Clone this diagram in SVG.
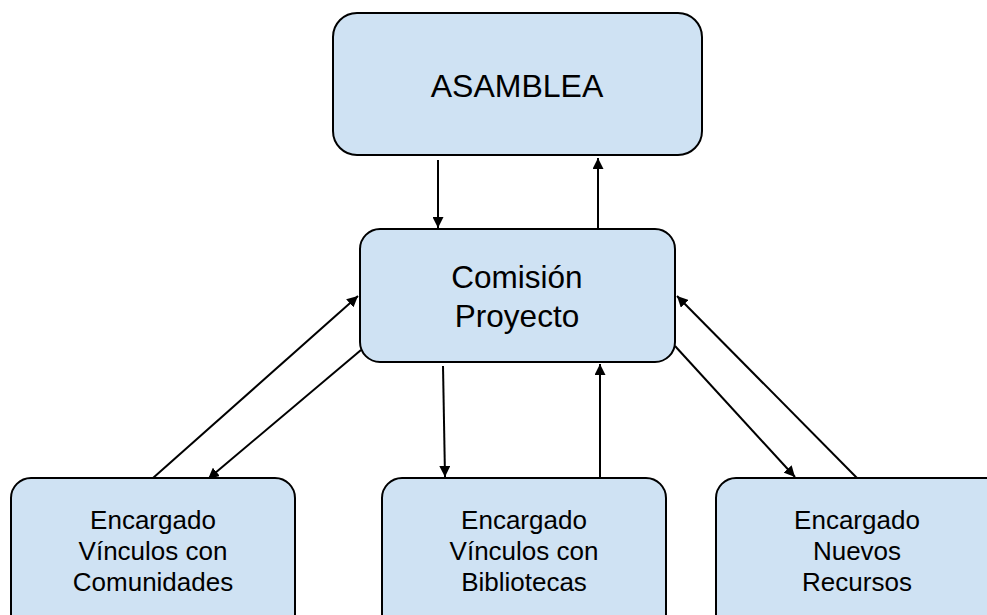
<svg xmlns="http://www.w3.org/2000/svg" width="987" height="615" viewBox="0 0 987 615">
<style>
.box{fill:#cfe2f3;stroke:#000;stroke-width:2}
.t{font-family:"Liberation Sans",Arial,sans-serif;fill:#000;text-anchor:middle}
.big{font-size:32px}
.mid{font-size:31.5px}
.sm{font-size:26px}
.c line{stroke:#000;stroke-width:2;marker-end:url(#ah)}
</style>
<defs>
<marker id="ah" viewBox="0 0 10 10" refX="10" refY="5" markerWidth="5.5" markerHeight="5.5" orient="auto" markerUnits="strokeWidth">
<path d="M0,0 L10,5 L0,10 z" fill="#000"/>
</marker>
</defs>
<rect width="987" height="615" fill="#fff"/>
<g class="c" id="connectors">
<line x1="438" y1="160" x2="438" y2="228"/>
<line x1="598" y1="233" x2="598" y2="158"/>
<line x1="443" y1="366" x2="445" y2="477"/>
<line x1="600" y1="480" x2="600" y2="364"/>
<line x1="153" y1="478" x2="358" y2="296"/>
<line x1="361" y1="350" x2="208" y2="479"/>
<line x1="675" y1="346" x2="795" y2="477"/>
<line x1="857" y1="478" x2="677" y2="296"/>
</g>
<g id="asamblea">
<rect class="box" x="333" y="13" width="369" height="142" rx="24"/>
<text class="t big" x="517" y="97">ASAMBLEA</text>
</g>
<g id="comision">
<rect class="box" x="360" y="229" width="315" height="133" rx="20"/>
<text class="t mid" x="517" y="288">Comisión</text>
<text class="t mid" x="517" y="327">Proyecto</text>
</g>
<g id="comunidades">
<rect class="box" x="11" y="478" width="284" height="160" rx="20"/>
<text class="t sm" x="153" y="529">Encargado</text>
<text class="t sm" x="153" y="560">Vínculos con</text>
<text class="t sm" x="153" y="591">Comunidades</text>
</g>
<g id="bibliotecas">
<rect class="box" x="382" y="478" width="284" height="160" rx="20"/>
<text class="t sm" x="524" y="529">Encargado</text>
<text class="t sm" x="524" y="560">Vínculos con</text>
<text class="t sm" x="524" y="591">Bibliotecas</text>
</g>
<g id="recursos">
<rect class="box" x="716" y="478" width="290" height="160" rx="20"/>
<text class="t sm" x="857" y="529">Encargado</text>
<text class="t sm" x="857" y="560">Nuevos</text>
<text class="t sm" x="857" y="591">Recursos</text>
</g>
</svg>
